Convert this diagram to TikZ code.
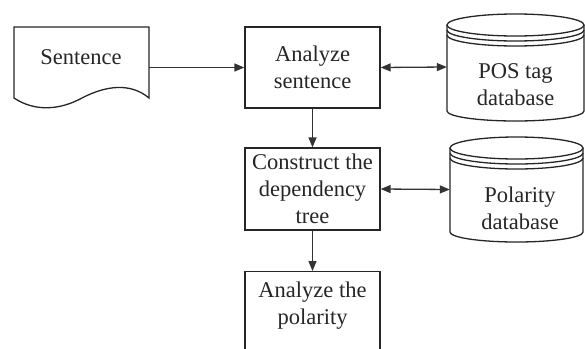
\documentclass[tikz,border=0pt]{standalone}
\usepackage{fontspec}
\setmainfont{Liberation Serif}
\usetikzlibrary{arrows.meta}
\begin{document}
\begin{tikzpicture}[x=1pt,y=-1pt,
  txt/.style={align=center, inner sep=0pt, font=\fontsize{22.5}{27}\selectfont, text=black!85},
  procbox/.style={txt, draw=black!85, line width=1.3pt, minimum width=135pt},
  area/.style={inner sep=0pt},
  shapeline/.style={draw=black!85, line width=1.3pt},
  tip/.style={Triangle[length=10pt,width=8pt]},
  flow/.style={-{Triangle[length=10pt,width=8pt]}, draw=black!80, line width=1.3pt},
  both/.style={{Triangle[length=10pt,width=8pt]}-{Triangle[length=10pt,width=8pt]}, draw=black!80, line width=1.3pt}]
\clip (0,0) rectangle (585,348);
\fill[white] (0,0) rectangle (585,348);

% input document
\node[area, minimum width=135pt, minimum height=81pt] (sent) at (81.5,67.5) {};
\draw[shapeline] (14,27) -- (149,27) -- (149,98)
  .. controls (130,82) and (105,86) .. (82,98)
  .. controls (60,110) and (35,112) .. (14,98) -- cycle;
\node[txt] (senttext) at (81,57) {Sentence};

% processing steps
\node[procbox, minimum height=81pt] (anasent) at (312.5,67.5) {Analyze\\sentence};
\node[procbox, minimum height=82pt] (dep) at (312.5,189) {Construct the\\dependency\\tree};
\node[procbox, anchor=north, minimum height=100pt] (polar) at (312.5,271) {};
\node[txt] (polartext) at (312.5,306) {Analyze the\\polarity};

% POS tag database drum
\node[area, minimum width=137pt, minimum height=108pt] (pos) at (515.5,67) {};
\draw[shapeline] (515.5,25) ellipse [x radius=68.5pt, y radius=11pt];
\draw[shapeline] (447,30) arc[start angle=180, end angle=360, x radius=68.5pt, y radius=11pt];
\draw[shapeline] (447,35) arc[start angle=180, end angle=360, x radius=68.5pt, y radius=11pt];
\draw[shapeline] (447,25) -- (447,111)
  arc[start angle=180, end angle=360, x radius=68.5pt, y radius=10pt] -- (584,25);
\node[txt] (postext) at (515.5,85) {POS tag\\database};

% polarity database drum
\node[area, minimum width=133pt, minimum height=105pt] (pold) at (516.5,189.5) {};
\draw[shapeline] (516.5,148) ellipse [x radius=66.5pt, y radius=11pt];
\draw[shapeline] (450,153) arc[start angle=180, end angle=360, x radius=66.5pt, y radius=11pt];
\draw[shapeline] (450,158) arc[start angle=180, end angle=360, x radius=66.5pt, y radius=11pt];
\draw[shapeline] (450,148) -- (450,232)
  arc[start angle=180, end angle=360, x radius=66.5pt, y radius=10pt] -- (583,148);
\node[txt] (poldtext) at (520,208) {Polarity\\database};

% connectors
\draw[flow] (sent.east) -- (anasent.west);
\draw[both] (anasent.east) -- (pos.west);
\draw[flow] (anasent.south) -- (dep.north);
\draw[both] (dep.east) -- (pold.west);
\draw[flow] (dep.south) -- (polar.north);
\end{tikzpicture}
\end{document}
